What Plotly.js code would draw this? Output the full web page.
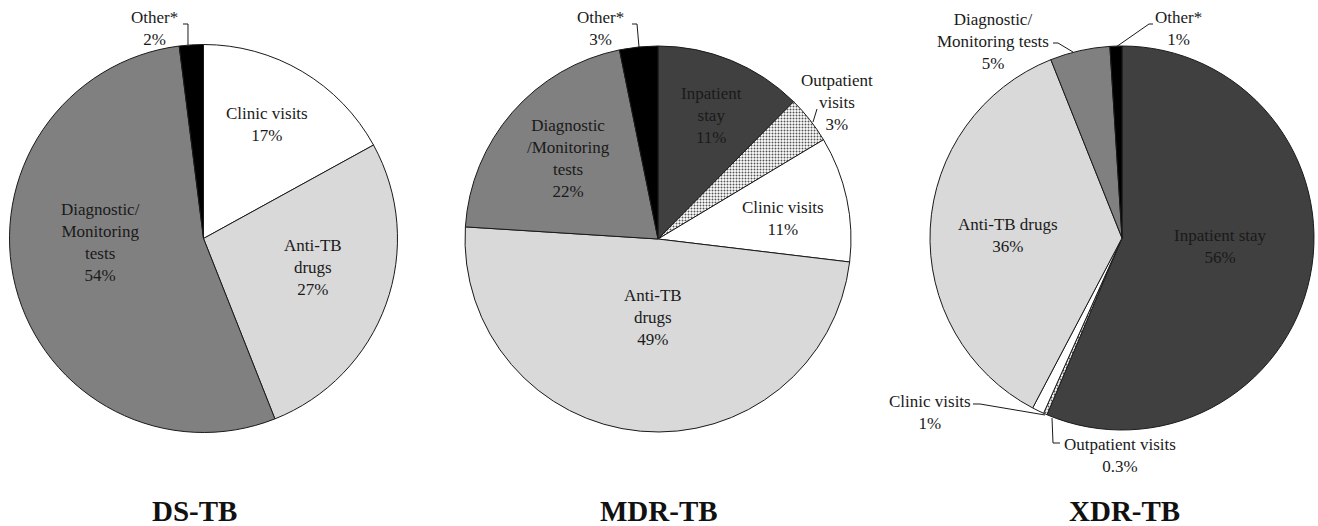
<!DOCTYPE html>
<html>
<head>
<meta charset="utf-8">
<script src="https://cdn.plot.ly/plotly-3.0.1.min.js"></script>
<style>
html,body{margin:0;padding:0;background:#fff;}
#chart{width:1318px;height:526px;}
</style>
</head>
<body>
<div id="chart"></div>
<script>
// ---------- data ----------
const dsCategories  = ['Clinic visits', 'Anti-TB drugs', 'Diagnostic/Monitoring tests', 'Other*'];
const dsValues      = [17, 27, 54, 2];
const dsPctLabels   = ['17%', '27%', '54%', '2%'];

const mdrCategories = ['Inpatient stay', 'Outpatient visits', 'Clinic visits', 'Anti-TB drugs', 'Diagnostic/Monitoring tests', 'Other*'];
const mdrValues     = [12.4, 4.0, 10.5, 49.1, 20.8, 3.2];
const mdrPctLabels  = ['11%', '3%', '11%', '49%', '22%', '3%'];

const xdrCategories = ['Inpatient stay', 'Outpatient visits', 'Clinic visits', 'Anti-TB drugs', 'Diagnostic/Monitoring tests', 'Other*'];
const xdrValues     = [56, 0.3, 1, 36, 5, 1];
const xdrPctLabels  = ['56%', '0.3%', '1%', '36%', '5%', '1%'];

const chartTitles   = ['DS-TB', 'MDR-TB', 'XDR-TB'];

// ---------- styles ----------
const W = 1318, H = 526;
const px = x => x / W;
const py = y => 1 - y / H;

const catColor = {
  'Inpatient stay': '#404040',
  'Outpatient visits': '#ffffff',
  'Clinic visits': '#ffffff',
  'Anti-TB drugs': '#d9d9d9',
  'Diagnostic/Monitoring tests': '#808080',
  'Other*': '#000000'
};
const catPattern = c => (c === 'Outpatient visits' ? '.' : '');

function pieTrace(cats, vals, dom) {
  return {
    type: 'pie',
    labels: cats,
    values: vals,
    sort: false,
    direction: 'clockwise',
    rotation: 0,
    textinfo: 'none',
    hoverinfo: 'label+percent',
    showlegend: false,
    domain: dom,
    marker: {
      colors: cats.map(c => catColor[c]),
      line: { color: '#1a1a1a', width: 1 },
      pattern: {
        shape: cats.map(catPattern),
        fgcolor: '#555555',
        bgcolor: '#ffffff',
        size: 3,
        solidity: 0.35
      }
    }
  };
}

const traces = [
  pieTrace(dsCategories, dsValues, { x: [px(9.5), px(397.5)], y: [py(432.5), py(44.5)] }),
  pieTrace(mdrCategories, mdrValues, { x: [px(465), px(851)], y: [py(432), py(46)] }),
  pieTrace(xdrCategories, xdrValues, { x: [px(930), px(1314)], y: [py(430), py(46)] })
];

const labelFont = { family: 'Liberation Serif, Times New Roman, serif', size: 17, color: '#1a1a1a' };
function lab(text, x, y) {
  return { text: text, x: px(x), y: py(y), xref: 'paper', yref: 'paper', showarrow: false,
           xanchor: 'center', yanchor: 'middle', align: 'center', font: labelFont };
}

const annotations = [
  // DS-TB
  lab('Clinic visits<br>' + dsPctLabels[0], 267, 125),
  lab('Anti-TB<br>drugs<br>' + dsPctLabels[1], 313, 267),
  lab('Diagnostic/<br>Monitoring<br>tests<br>' + dsPctLabels[2], 100, 242),
  lab('Other*<br>' + dsPctLabels[3], 154, 28),
  // MDR-TB
  lab('Inpatient<br>stay<br>' + mdrPctLabels[0], 712, 115),
  lab('Outpatient<br>visits<br>' + mdrPctLabels[1], 837, 102),
  lab('Clinic visits<br>' + mdrPctLabels[2], 783, 218),
  lab('Anti-TB<br>drugs<br>' + mdrPctLabels[3], 653, 317),
  lab('Diagnostic<br>/Monitoring<br>tests<br>' + mdrPctLabels[4], 568, 158),
  lab('Other*<br>' + mdrPctLabels[5], 600, 28),
  // XDR-TB
  lab('Inpatient stay<br>' + xdrPctLabels[0], 1220, 247),
  lab('Outpatient visits<br>' + xdrPctLabels[1], 1120, 455),
  lab('Clinic visits<br>' + xdrPctLabels[2], 930, 412),
  lab('Anti-TB drugs<br>' + xdrPctLabels[3], 1008, 235),
  lab('Diagnostic/<br>Monitoring tests<br>' + xdrPctLabels[4], 993, 41),
  lab('Other*<br>' + xdrPctLabels[5], 1178, 28)
];

const titleFont = { family: 'Liberation Serif, Times New Roman, serif', size: 29, color: '#111111', weight: 'bold' };
[[chartTitles[0], 194], [chartTitles[1], 659], [chartTitles[2], 1124]].forEach(([t, x]) => {
  annotations.push({ text: '<b>' + t + '</b>', x: px(x), y: py(511), xref: 'paper', yref: 'paper',
    showarrow: false, xanchor: 'center', yanchor: 'middle', font: titleFont });
});

function leader(pts) {
  const d = pts.map((p, i) => (i ? 'L' : 'M') + px(p[0]).toFixed(5) + ',' + py(p[1]).toFixed(5)).join(' ');
  return { type: 'path', path: d, xref: 'paper', yref: 'paper', line: { color: '#1a1a1a', width: 1 } };
}

const shapes = [
  leader([[183, 24], [188, 24], [188, 45]]),
  leader([[632, 24], [637, 24], [639, 47]]),
  leader([[817, 109], [813, 122]]),
  leader([[1053, 43], [1058, 43], [1073, 52]]),
  leader([[1153, 24], [1149, 24], [1116, 47]]),
  leader([[973, 404], [980, 404], [1045, 415]]),
  leader([[1052, 418], [1053, 443], [1060, 443]])
];

const layout = {
  width: W, height: H,
  margin: { l: 0, r: 0, t: 0, b: 0 },
  paper_bgcolor: '#ffffff',
  plot_bgcolor: '#ffffff',
  showlegend: false,
  annotations: annotations,
  shapes: shapes
};

Plotly.newPlot('chart', traces, layout, { displayModeBar: false, staticPlot: true });
</script>
</body>
</html>
